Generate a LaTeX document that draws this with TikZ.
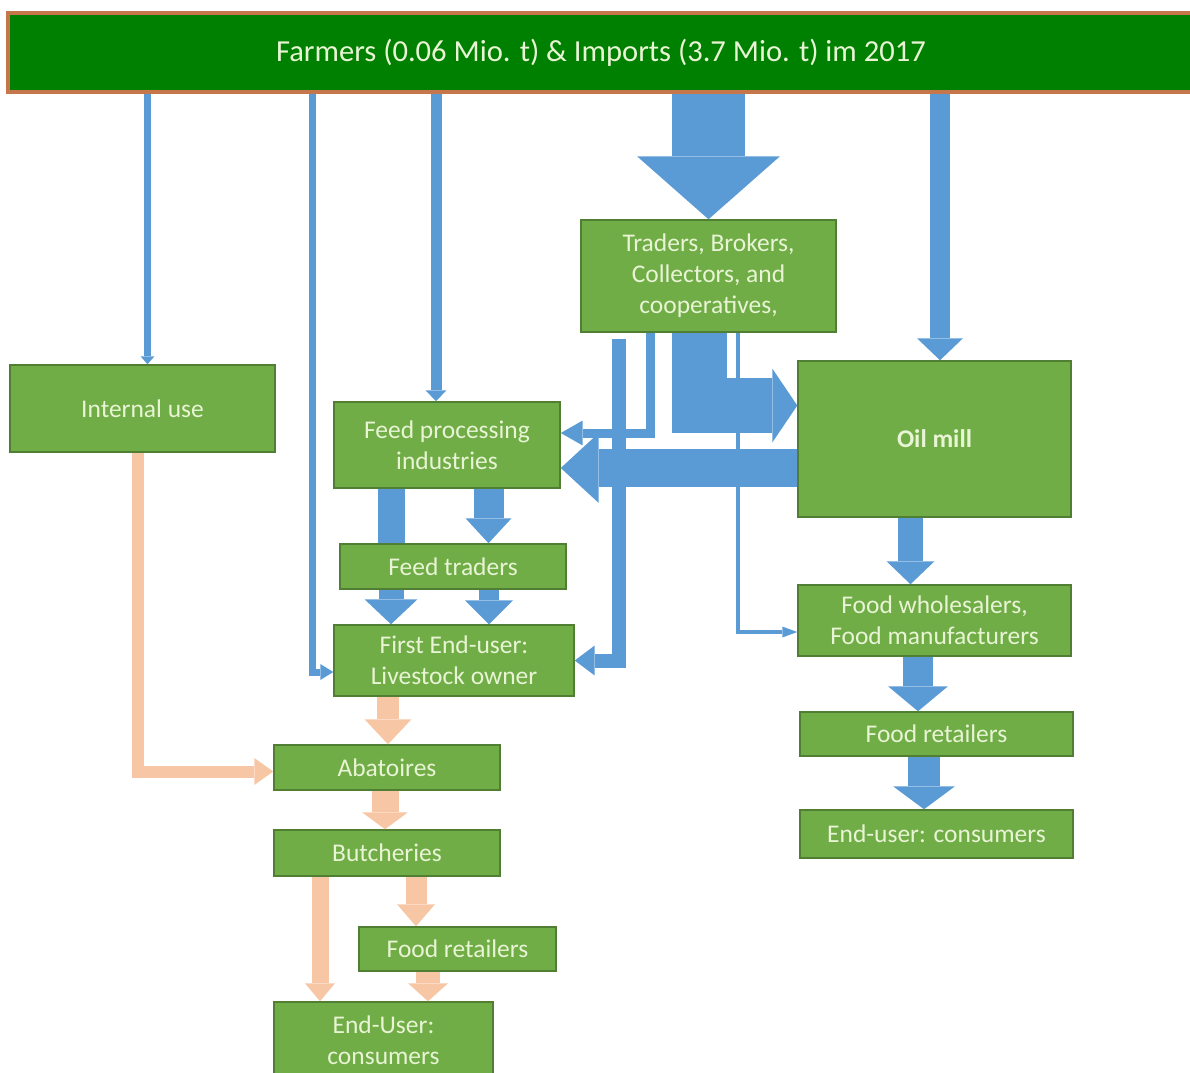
\documentclass[tikz,border=0pt]{standalone}
\usepackage{fontspec}
\setmainfont{Carlito}
\usetikzlibrary{arrows.meta}
\definecolor{cajaverde}{RGB}{112,173,71}
\definecolor{bordeverde}{RGB}{80,126,50}
\definecolor{textoclaro}{RGB}{232,244,212}
\definecolor{verdeoscuro}{RGB}{0,128,0}
\definecolor{bordenaranja}{RGB}{197,118,74}
\definecolor{azulflujo}{RGB}{91,155,213}
\definecolor{naranjaflujo}{RGB}{247,198,164}

\tikzset{
  caja/.style={draw=bordeverde, line width=0.03cm, fill=cajaverde, text=textoclaro,
    align=center, inner sep=0pt, font=\fontsize{14.5}{17.6}\selectfont},
  fazul/.style n args={3}{draw=azulflujo, line width=#1,
    -{Triangle[width=#2,length=#3,line width=0pt]}},
  fnaranja/.style n args={3}{draw=naranjaflujo, line width=#1,
    -{Triangle[width=#2,length=#3,line width=0pt]}},
}

\begin{document}
\begin{tikzpicture}[x=0.02cm,y=-0.02cm]
  \clip (0,0) rectangle (1190,1072);

  % Origen
  \node[draw=bordenaranja, line width=0.08cm, fill=verdeoscuro, text=textoclaro,
    minimum width=23.72cm, minimum height=1.58cm, font=\fontsize{17.4}{20}\selectfont]
    (farmers) at (601,52.5) {Farmers (0.06 Mio. t) \& Imports (3.7 Mio. t) im 2017};

  % Cajas
  \node[caja, minimum width=5.1cm, minimum height=2.24cm] (traders) at (708.5,276)
    {Traders, Brokers,\\Collectors, and\\cooperatives,};
  \node[caja, minimum width=5.3cm, minimum height=1.74cm] (intern) at (142.5,408.5) {Internal use};
  \node[caja, minimum width=4.52cm, minimum height=1.72cm] (feedproc) at (447,445)
    {Feed processing\\industries};
  \node[caja, minimum width=5.46cm, minimum height=3.12cm] (oilmill) at (934.5,439)
    {\textbf{Oil mill}};
  \node[caja, minimum width=4.52cm, minimum height=0.9cm] (feedtr) at (453,566.5) {Feed traders};
  \node[caja, minimum width=4.8cm, minimum height=1.42cm] (livestock) at (454,660.5)
    {First End-user:\\Livestock owner};
  \node[caja, minimum width=5.46cm, minimum height=1.42cm] (wholesale) at (934.5,620.5)
    {Food wholesalers,\\Food manufacturers};
  \node[caja, minimum width=5.46cm, minimum height=0.88cm] (retailR) at (936.5,734) {Food retailers};
  \node[caja, minimum width=5.46cm, minimum height=0.96cm] (consR) at (936.5,834) {End-user: consumers};
  \node[caja, minimum width=4.52cm, minimum height=0.9cm] (abat) at (387,767.5) {Abatoires};
  \node[caja, minimum width=4.52cm, minimum height=0.92cm] (butch) at (387,853) {Butcheries};
  \node[caja, minimum width=3.94cm, minimum height=0.88cm] (retailL) at (457.5,949) {Food retailers};
  \node[caja, minimum width=4.38cm, minimum height=1.52cm] (consL) at (383.5,1040)
    {End-User:\\consumers};

  % Puntos de llegada
  \coordinate (a1) at ([xshift=0.1cm]intern.north);
  \coordinate (a2) at ([yshift=-0.23cm]livestock.west);
  \coordinate (a6) at ([yshift=0.24cm]feedproc.east);
  \coordinate (a7) at ([yshift=-0.12cm]traders.south);
  \coordinate (a8) at ([yshift=0.67cm]oilmill.west);
  \coordinate (a9) at ([yshift=-0.23cm]wholesale.west);
  \coordinate (a10) at ([yshift=-0.46cm]feedproc.east);
  \coordinate (o2) at ([yshift=-0.08cm]abat.west);

  % Flechas grandes
  \draw[fazul={1.46cm}{2.86cm}{1.26cm}] (farmers.south -| traders.north) -- (traders.north);
  \draw[fazul={1.1cm}{1.48cm}{0.5cm}] (traders.south -| 699,0) |- (a8);
  \draw[fazul={0.76cm}{1.4cm}{0.76cm}] (oilmill.west |- a10) -- (a10);

  % Flechas finas desde el origen
  \draw[fazul={0.14cm}{0.28cm}{0.16cm}] (farmers.south -| a1) -- (a1);
  \draw[fazul={0.14cm}{0.32cm}{0.26cm}] (farmers.south -| 312,0) |- (a2);
  \draw[fazul={0.22cm}{0.42cm}{0.22cm}] (farmers.south -| 436,0) -- (feedproc.north -| 436,0);
  \draw[fazul={0.4cm}{0.92cm}{0.44cm}] (farmers.south -| 940,0) -- (oilmill.north -| 940,0);

  % Desde traders
  \draw[fazul={0.18cm}{0.5cm}{0.44cm}] (traders.south -| 650.5,0) |- (a6);
  \draw[fazul={0.28cm}{0.6cm}{0.4cm}] (a7 -| 619,0) |- (livestock.east);
  \draw[fazul={0.08cm}{0.22cm}{0.3cm}] (traders.south -| 738,0) |- (a9);

  % Cadena de piensos
  \draw[azulflujo, line width=0.54cm] (feedproc.south -| 391.5,0) -- (feedtr.north -| 391.5,0);
  \draw[fazul={0.6cm}{0.92cm}{0.5cm}] (feedproc.south -| 488.5,0) -- (feedtr.north -| 488.5,0);
  \draw[fazul={0.5cm}{1.06cm}{0.5cm}] (feedtr.south -| 391,0) -- (livestock.north -| 391,0);
  \draw[fazul={0.4cm}{0.96cm}{0.48cm}] (feedtr.south -| 489,0) -- (livestock.north -| 489,0);

  % Cadena de aceite
  \draw[fazul={0.5cm}{0.96cm}{0.46cm}] (oilmill.south -| 910.5,0) -- (wholesale.north -| 910.5,0);
  \draw[fazul={0.6cm}{1.2cm}{0.5cm}] (wholesale.south -| 918,0) -- (retailR.north -| 918,0);
  \draw[fazul={0.64cm}{1.24cm}{0.46cm}] (retailR.south -| 924,0) -- (consR.north -| 924,0);

  % Cadena de carne
  \draw[fnaranja={0.44cm}{0.94cm}{0.5cm}] (livestock.south -| 388,0) -- (abat.north -| 388,0);
  \draw[fnaranja={0.24cm}{0.54cm}{0.38cm}] (intern.south -| 138,0) |- (o2);
  \draw[fnaranja={0.54cm}{0.92cm}{0.34cm}] (abat.south -| 385,0) -- (butch.north -| 385,0);
  \draw[fnaranja={0.34cm}{0.6cm}{0.36cm}] (butch.south -| 320,0) -- (consL.north -| 320,0);
  \draw[fnaranja={0.42cm}{0.76cm}{0.44cm}] (butch.south -| 416,0) -- (retailL.north -| 416,0);
  \draw[fnaranja={0.48cm}{0.8cm}{0.36cm}] (retailL.south -| 428,0) -- (consL.north -| 428,0);
\end{tikzpicture}
\end{document}
